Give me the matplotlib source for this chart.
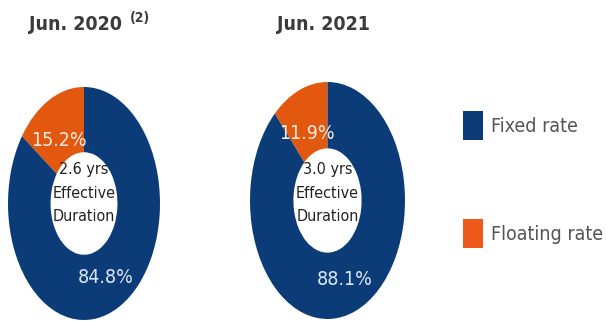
import numpy as np
import matplotlib
matplotlib.use("Agg")
import matplotlib.pyplot as plt
from matplotlib.patches import Patch

# Rate mix of the debt portfolio
categories = ["Fixed rate", "Floating rate"]
periods = ["Jun. 2020", "Jun. 2021"]
period_notes = ["(2)", ""]
fixed_pct = [84.8, 88.1]
floating_pct = [15.2, 11.9]
duration_yrs = [2.6, 3.0]

NAVY = "#0b3c78"
ORANGE = "#e2580f"
LEGEND_ORANGE = "#ee5a1c"
FONT = dict(family="DejaVu Sans", fontstretch="condensed")

fig = plt.figure(figsize=(6.06, 3.21), dpi=100)
fig.patch.set_facecolor("white")

# donut axes (figure fractions) and vertical offset of the centre text
ax_rects = [
    [8 / 606, 1 / 321, 152 / 606, 233 / 321],
    [250 / 606, 2 / 321, 155 / 606, 237 / 321],
]
title_x = [76 / 606, 323 / 606]
note_x = [140 / 606, None]
center_dy = [0.09, 0.06]
# label radius and angular nudge (deg) for floating / fixed wedges
label_r = [0.63, 0.70]
label_dtheta = [4, -3]
label_colors = ["#f8ede6", "#dce8f6"]

for i in range(len(periods)):
    ax = fig.add_axes(ax_rects[i])
    vals = [floating_pct[i], fixed_pct[i]]
    wedges, _ = ax.pie(
        vals,
        colors=[ORANGE, NAVY],
        startangle=90,
        counterclock=True,
        radius=1.0,
        wedgeprops=dict(width=0.56, linewidth=0),
    )
    for k, w in enumerate(wedges):
        mid = np.deg2rad((w.theta1 + w.theta2) / 2 + label_dtheta[k])
        ax.text(label_r[k] * np.cos(mid), label_r[k] * np.sin(mid),
                f"{vals[k]:.1f}%", ha="center", va="center", fontsize=14,
                color=label_colors[k], **FONT)
    ax.set_aspect("auto")
    ax.set_xlim(-1, 1)
    ax.set_ylim(-1, 1)
    ax.axis("off")
    ax.text(0, center_dy[i], f"{duration_yrs[i]:.1f} yrs\nEffective\nDuration",
            ha="center", va="center", fontsize=11.5, color="#222222",
            linespacing=1.7, **FONT)

    fig.text(title_x[i], 1 - 25 / 321, periods[i], ha="center", va="center",
             fontsize=14, fontweight="bold", color="#3b3b3b", **FONT)
    if period_notes[i]:
        fig.text(note_x[i], 1 - 18 / 321, period_notes[i], ha="center",
                 va="center", fontsize=10, fontweight="bold", color="#3b3b3b",
                 **FONT)

handles = [Patch(facecolor=NAVY, edgecolor="none"),
           Patch(facecolor=LEGEND_ORANGE, edgecolor="none")]
leg = fig.legend(handles, categories, loc="upper left",
                 bbox_to_anchor=(463 / 606, 1 - 111 / 321),
                 frameon=False, borderpad=0, borderaxespad=0,
                 handlelength=1.03, handleheight=1.9, handletextpad=0.4,
                 labelspacing=4.1,
                 prop=dict(size=14, family=FONT["family"], stretch="condensed"))
for t in leg.get_texts():
    t.set_color("#555555")

fig.savefig("out.png", dpi=100, facecolor="white")
